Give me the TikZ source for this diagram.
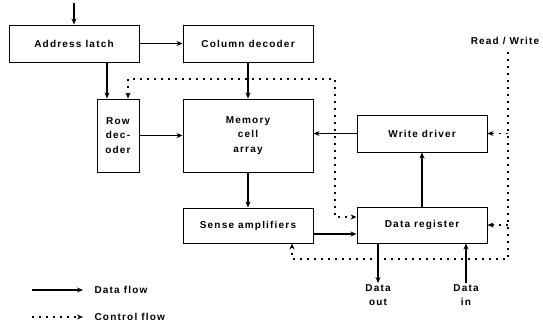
\documentclass[tikz,border=0pt]{standalone}
\usepackage{fontspec}
\setmainfont{Liberation Sans}[LetterSpace=12]
\usetikzlibrary{arrows.meta,calc}
\begin{document}
\begin{tikzpicture}[x=1pt,y=-1pt,
  font=\bfseries\fontsize{10}{14.5}\selectfont,
  box/.style={draw,line width=1pt,minimum width=130pt,minimum height=37pt,inner sep=0pt,align=center},
  data/.style={line width=1.5pt,-{Stealth[length=6pt,width=5pt]}},
  ctrl/.style={line width=1.6pt,dash pattern=on 1.6pt off 5.4pt},
  ctrlarrow/.style={ctrl,-{Stealth[length=6pt,width=5pt]}}]
\useasboundingbox (0,0) rectangle (543,324);
\node[box] (latch) at (74,43.5) {Address latch};
\node[box] (coldec) at (248,43.5) {Column decoder};
\node[box,minimum width=42pt,minimum height=73pt] (rowdec) at (118,135.5) {Row\\dec-\\oder};
\node[box,minimum height=73pt] (mem) at (248,135.5) {Memory\\cell\\array};
\node[box,minimum height=35pt] (sense) at (248,225.5) {Sense amplifiers};
\node[box] (write) at (422,133.5) {Write driver};
\node[box,minimum height=36pt] (datareg) at (422,225) {Data register};
\node (rw) at (505,41) {Read / Write};
\node[align=center,inner sep=1pt] (dout) at (378,295) {Data\\out};
\node[align=center,inner sep=1pt] (din) at (466,295) {Data\\in};
% data flow
\coordinate (topin) at (74,3);
\draw[data] (topin) -- (latch.north);
\draw[data] (latch) -- (coldec);
\draw[data] ([xshift=-11pt]rowdec.north |- latch.south) -- ([xshift=-11pt]rowdec.north);
\draw[data] (coldec) -- (mem);
\draw[data] (rowdec) -- (mem);
\draw[data] (mem) -- (sense);
\draw[data] (write.west) -- (mem.east |- write.west);
\draw[data] (datareg) -- (write);
\coordinate (sa) at ([yshift=-8.5pt]sense.east);
\draw[data] (sa) -- (datareg.west |- sa);
\draw[data] ([xshift=-44pt]datareg.south) -- (dout.north);
\draw[data] (din.north) -- ([xshift=44pt]datareg.south);
% control flow
\coordinate (c1) at (335,79);
\draw[ctrl,{Stealth[length=6pt,width=5pt]}-{Stealth[length=6pt,width=5pt]}]
  ([xshift=10pt]rowdec.north) |- (c1) |- ([yshift=8pt]datareg.west);
\coordinate (rwtop) at (508,52);
\coordinate (rwbot) at (508,259);
\draw[ctrlarrow] (rwtop) -- (rwbot) -| ([xshift=44pt]sense.south);
\draw[ctrlarrow] (write.east -| rwtop) -- (write.east);
\draw[ctrlarrow] (datareg.east -| rwtop) -- (datareg.east);
% legend
\coordinate (la) at (32,290);
\coordinate (lb) at (83,290);
\coordinate (lc) at (32,317);
\coordinate (ld) at (83,317);
\draw[data] (la) -- (lb);
\draw[ctrlarrow] (lc) -- (ld);
\node[anchor=west] (ldata) at (91,290) {Data flow};
\node[anchor=west] (lctrl) at (91,317) {Control flow};
\end{tikzpicture}
\end{document}
